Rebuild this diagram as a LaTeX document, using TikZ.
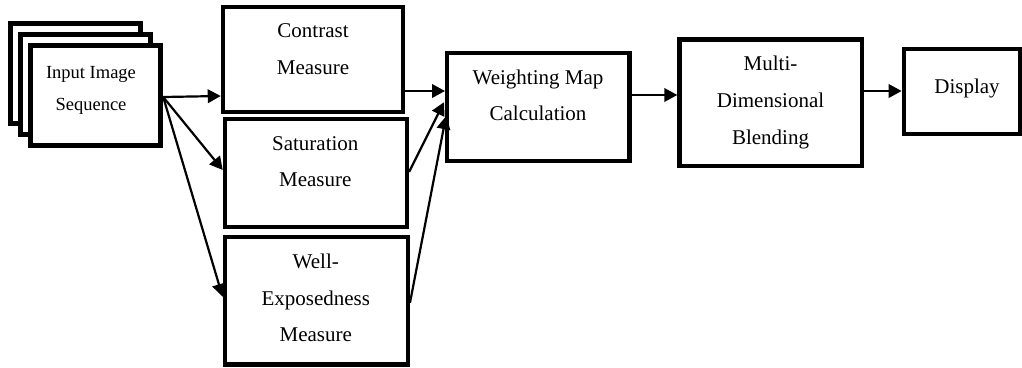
\documentclass[tikz,border=0pt]{standalone}
\usepackage{fontspec}
\setmainfont{Liberation Serif}
\usetikzlibrary{arrows.meta,calc}
\begin{document}
\begin{tikzpicture}[x=1pt,y=-1pt,
  blk/.style={draw,line width=4.3pt,fill=white,inner sep=0pt},
  frame/.style={draw,line width=5pt,fill=white,inner sep=0pt,
    minimum width=130pt,minimum height=100pt},
  lbl/.style={anchor=base,inner sep=0pt,font=\fontsize{21pt}{25pt}\selectfont},
  small/.style={anchor=base,inner sep=0pt,font=\fontsize{18.5pt}{22pt}\selectfont},
  flow/.style={line width=2.2pt,-{Triangle[length=13pt,width=13.5pt]}}]
\useasboundingbox (0,0) rectangle (1022,367);

% stacked frames of the input sequence
\node[frame] (seq3) at (75,73.5) {};
\node[frame] (seq2) at (85.5,84.5) {};
\node[frame] (seq1) at (95.7,95) {};
\node[small] (tseqA) at (91,78) {Input Image};
\node[small] (tseqB) at (91,110.5) {Sequence};

% quality measures
\node[blk,minimum width=180pt,minimum height=104.7pt] (con) at (312.9,59.5) {};
\node[lbl] (tconA) at (313,37.3) {Contrast};
\node[lbl] (tconB) at (313,74) {Measure};

\node[blk,minimum width=182pt,minimum height=107.7pt] (sat) at (315.9,173) {};
\node[lbl] (tsatA) at (315.3,150) {Saturation};
\node[lbl] (tsatB) at (315.3,186.7) {Measure};

\node[blk,minimum width=183pt,minimum height=127.3pt] (wel) at (316.3,300.9) {};
\node[lbl] (twelA) at (315.8,268.3) {Well-};
\node[lbl] (twelB) at (315.8,305) {Exposedness};
\node[lbl] (twelC) at (315.8,341.7) {Measure};

% weighting, blending and output
\node[blk,minimum width=182.3pt,minimum height=108pt] (wm) at (538.3,107.2) {};
\node[lbl] (twmA) at (538,84) {Weighting Map};
\node[lbl] (twmB) at (538,120.7) {Calculation};

\node[blk,minimum width=182.3pt,minimum height=126.6pt] (mb) at (770.6,102.8) {};
\node[lbl] (tmbA) at (770.5,70) {Multi-};
\node[lbl] (tmbB) at (770.5,107) {Dimensional};
\node[lbl] (tmbC) at (770.5,144) {Blending};

\node[blk,minimum width=116pt,minimum height=85pt] (dp) at (961.8,91.3) {};
\node[lbl] (tdp) at (967,93) {Display};

% connectors
\coordinate (src) at ($(seq1.east)+(0,2)$);
\draw[flow] (src) -- ($(con.west)+(0,36.5)$);
\draw[flow] (src) -- ($(sat.west)+(0,-3)$);
\draw[flow] (src) -- ($(wel.west)+(0,-4)$);

\draw[flow] ($(con.east)+(0,31.5)$) -- ($(wm.west)+(0,-16.2)$);
\draw[flow] ($(sat.east)+(0,-1)$) -- ($(wm.west)+(-1,-5)$);
\draw[flow] ($(wel.east)+(0,2)$) -- ($(wm.west)+(1,9)$);

\draw[flow] ($(wm.east)+(0,-12.2)$) -- ($(mb.west)+(0,-7.8)$);
\draw[flow] ($(mb.east)+(0,-11.8)$) -- ($(dp.west)+(0,-0.3)$);
\end{tikzpicture}
\end{document}
